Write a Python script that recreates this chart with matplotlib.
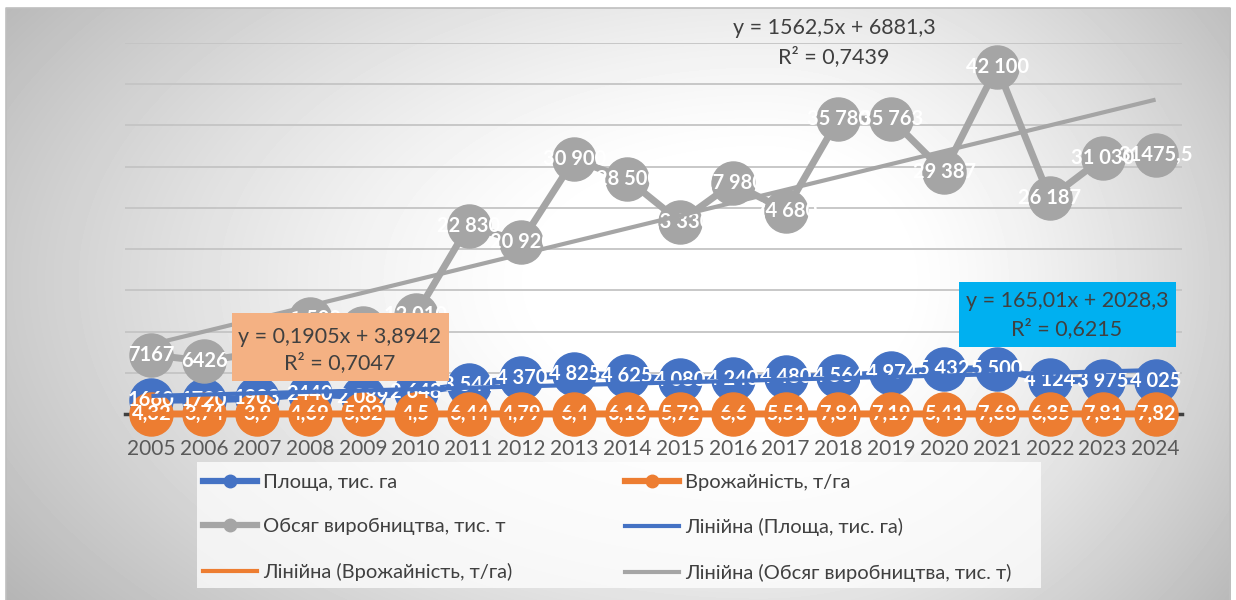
import numpy as np
import matplotlib
matplotlib.use("Agg")
import matplotlib.pyplot as plt
from matplotlib.lines import Line2D
from matplotlib.patches import Rectangle

# ---------------- data ----------------
years = [str(y) for y in range(2005, 2025)]
area = [1660, 1720, 1903, 2440, 2089, 2648, 3544, 4370, 4825, 4625,
        4080, 4240, 4480, 4564, 4974, 5432, 5500, 4124, 3975, 4025]
crop_yield = [4.32, 3.74, 3.9, 4.69, 5.02, 4.5, 6.44, 4.79, 6.4, 6.16,
              5.72, 6.6, 5.51, 7.84, 7.19, 5.41, 7.68, 6.35, 7.81, 7.82]
production = [7167, 6426, 7400, 11500, 10400, 12010, 22830, 20920, 30900, 28500,
              23330, 27980, 24680, 35780, 35763, 29387, 42100, 26187, 31030, 31475.5]
# whether the data label uses a thousands separator
area_grouped = [False, False, False, False] + [True] * 16
prod_grouped = [False, False] + [True] * 17 + [False]
# linear trend coefficients (slope, intercept) as printed on the chart
trend_area = (165.01, 2028.3)
trend_yield = (0.1905, 3.8942)
trend_prod = (1562.5, 6881.3)
eq_area = ["y = 165,01x + 2028,3", "R² = 0,6215"]
eq_yield = ["y = 0,1905x + 3,8942", "R² = 0,7047"]
eq_prod = ["y = 1562,5x + 6881,3", "R² = 0,7439"]
series_names = ["Площа, тис. га", "Врожайність, т/га", "Обсяг виробництва, тис. т"]
trend_names = ["Лінійна (Площа, тис. га)", "Лінійна (Врожайність, т/га)",
               "Лінійна (Обсяг виробництва, тис. т)"]

BLUE, ORANGE, GRAY = "#4472C4", "#ED7D31", "#A5A5A5"
TXT = "#404040"
FONT = ["Lato", "Noto Sans", "DejaVu Sans"]
plt.rcParams["font.family"] = FONT


def fmt(v, grouped):
    if grouped:
        return "{:,}".format(int(round(v))).replace(",", " ")
    s = ("%g" % v)
    return s.replace(".", ",")


W, H = 1236, 600
fig = plt.figure(figsize=(W / 100, H / 100), dpi=100)

# ---------------- background gradient ----------------
bg = fig.add_axes([0, 0, 1, 1], zorder=0)
yy, xx = np.mgrid[0:H, 0:W]
cx, cy = 760, 280
rx = np.where(xx < cx, 850.0, 560.0)
ry = np.where(yy < cy, 480.0, 500.0)
t = np.sqrt(((xx - cx) / rx) ** 2 + ((yy - cy) / ry) ** 2)
s = np.clip((t - 0.25) / 0.75, 0, 1.3)
g = 1 - 0.25 * s ** 1.3
g[(xx < 6) | (xx > 1230) | (yy < 8)] = 1.0
bg.imshow(g, cmap="gray", vmin=0, vmax=1, extent=(0, W, H, 0), aspect="auto",
          interpolation="bilinear")
bg.plot([6, 6, 1230, 1230], [H, 8, 8, H], color="#BFBFBF", lw=1.2)
bg.set_xlim(0, W)
bg.set_ylim(H, 0)
bg.axis("off")

# ---------------- main axes ----------------
L, R, T, B = 125, 1182, 43, 414
ax = fig.add_axes([L / W, 1 - B / H, (R - L) / W, (B - T) / H], zorder=1)
ax.patch.set_alpha(0)
n = len(years)
x = np.arange(n) + 0.5
xi = np.arange(1, n + 1)
ax.set_xlim(0, n)
ax.set_ylim(0, 45000)
ax.set_yticks(np.arange(0, 45001, 5000))
ax.yaxis.grid(True, color="#C4C4C4", lw=1.3)
ax.set_axisbelow(True)
ax.tick_params(axis="y", length=0, labelleft=False)
ax.set_xticks(x)
ax.set_xticklabels(years, fontsize=15, color="#595959")
ax.tick_params(axis="x", length=0, pad=18)
for sp in ["top", "right", "left"]:
    ax.spines[sp].set_visible(False)
ax.spines["bottom"].set_color("#404040")
ax.spines["bottom"].set_linewidth(2.5)

MS = 31
for vals, col, zo in [(area, BLUE, 3), (crop_yield, ORANGE, 4), (production, GRAY, 5)]:
    ax.plot(x, vals, color=col, lw=5, marker="o", ms=MS, mec=col, mfc=col,
            clip_on=False, zorder=zo, solid_capstyle="round")

lab_kw = dict(ha="center", va="center", color="white", fontweight="bold",
              fontsize=14.5, zorder=6, clip_on=False)
for xv, v, gflag in zip(x, area, area_grouped):
    ax.text(xv, v, fmt(v, gflag), **lab_kw)
for xv, v in zip(x, crop_yield):
    ax.text(xv, v, fmt(v, False), **lab_kw)
for xv, v, gflag in zip(x, production, prod_grouped):
    ax.text(xv, v, fmt(v, gflag), **lab_kw)

for (a, b), col in [(trend_area, BLUE), (trend_yield, ORANGE), (trend_prod, GRAY)]:
    ax.plot(x, a * xi + b, color=col, lw=3, zorder=7, clip_on=False,
            solid_capstyle="butt")

# ---------------- trendline equations ----------------
def box(x0, y0, x1, y1, color):
    fig.add_artist(Rectangle((x0 / W, 1 - y1 / H), (x1 - x0) / W, (y1 - y0) / H,
                             transform=fig.transFigure, facecolor=color,
                             edgecolor="none", zorder=8))

EQ_FS = 15.5
box(232, 313, 449, 381, "#F4B183")
fig.text(340 / W, 1 - 337 / H, eq_yield[0], ha="center", va="center",
         fontsize=EQ_FS, color=TXT, zorder=9)
fig.text(340 / W, 1 - 363 / H, eq_yield[1], ha="center", va="center",
         fontsize=EQ_FS, color=TXT, zorder=9)

box(959, 282, 1176, 347, "#00B0F0")
fig.text(1067 / W, 1 - 301 / H, eq_area[0], ha="center", va="center",
         fontsize=EQ_FS, color=TXT, zorder=9)
fig.text(1067 / W, 1 - 329 / H, eq_area[1], ha="center", va="center",
         fontsize=EQ_FS, color=TXT, zorder=9)

fig.text(834 / W, 1 - 28 / H, eq_prod[0], ha="center", va="center",
         fontsize=EQ_FS, color=TXT, zorder=9)
fig.text(834 / W, 1 - 57 / H, eq_prod[1], ha="center", va="center",
         fontsize=EQ_FS, color=TXT, zorder=9)

# ---------------- legend ----------------
fig.add_artist(Rectangle((197 / W, 1 - 588 / H), (1041 - 197) / W, (588 - 462) / H,
                         transform=fig.transFigure, facecolor="white", alpha=0.75,
                         edgecolor="none", zorder=1.5))


def s_handle(col):
    return Line2D([], [], color=col, lw=4.5, marker="o", ms=9, mfc=col, mec=col)


def t_handle(col):
    return Line2D([], [], color=col, lw=3)

col1 = [(s_handle(BLUE), series_names[0]), (s_handle(GRAY), series_names[2]),
        (t_handle(ORANGE), trend_names[1])]
col2 = [(s_handle(ORANGE), series_names[1]), (t_handle(BLUE), trend_names[0]),
        (t_handle(GRAY), trend_names[2])]
for items, x0 in [(col1, 203), (col2, 625)]:
    lg = fig.legend([h for h, _ in items], [l for _, l in items], loc="upper left",
                    bbox_to_anchor=(x0 / W, 1 - 474 / H), frameon=False,
                    fontsize=14.5, handlelength=2.7, handletextpad=0.3,
                    labelspacing=1.35, borderpad=0, borderaxespad=0)
    for tx in lg.get_texts():
        tx.set_color(TXT)
    lg.set_zorder(3)

fig.savefig("out.png", dpi=100)
